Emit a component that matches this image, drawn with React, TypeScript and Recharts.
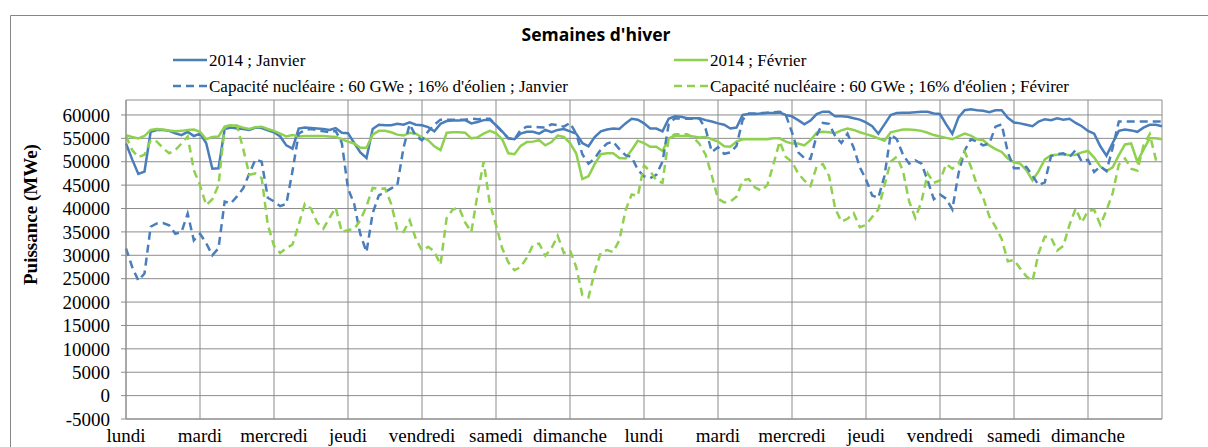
import React from "react";
import { LineChart, Line, XAxis, YAxis, CartesianGrid } from "recharts";

// 2-hour steps, 12 points per day, 14 days (+ closing point)
const dayLabels = [
  "lundi", "mardi", "mercredi", "jeudi", "vendredi", "samedi", "dimanche",
  "lundi", "mardi", "mercredi", "jeudi", "vendredi", "samedi", "dimanche",
];
const stepsPerDay = 12;

const yTicks = [-5000, 0, 5000, 10000, 15000, 20000, 25000, 30000, 35000, 40000, 45000, 50000, 55000, 60000];

const janvier2014 = [
  53900, 50500, 47400, 47900, 56400, 56800, 56800, 56600, 56100, 55700, 56400, 55500,
  56000, 54000, 48500, 48600, 57000, 57300, 57100, 57000, 56800, 57300, 57200, 56700,
  56300, 55400, 53500, 52800, 57100, 57300, 57200, 57100, 57000, 56800, 57200, 56200,
  56100, 54000, 52000, 50800, 57000, 57900, 57800, 57800, 58100, 57900, 58400, 57900,
  57800, 57400, 56500, 58100, 58700, 58800, 58800, 58900, 58200, 58500, 58900, 59000,
  57800, 56500, 55000, 54800, 56000, 56400, 56400, 56000, 56800, 56300, 56800, 57000,
  56500, 56000, 54000, 53300, 55300, 56500, 56900, 57100, 57000, 58200, 59200, 59000,
  58200, 57100, 57100, 56500, 59200, 59700, 59600, 59300, 59300, 59300, 58900, 58600,
  58200, 57900, 57100, 57300, 60000, 60200, 60200, 60300, 60400, 60400, 60500, 60000,
  59700, 58900, 58000, 58800, 60200, 60700, 60700, 59700, 59700, 59600, 59300, 59000,
  58400, 57600, 56000, 58000, 60000, 60400, 60500, 60500, 60600, 60700, 60700, 60300,
  60200, 58000, 56000, 59500, 61000, 61200, 61000, 60900, 60600, 61000, 61000, 59400,
  58400, 58200, 57900, 57600, 58600, 59100, 58900, 59300, 59000, 59200, 58300, 57600,
  56600, 56000, 53300, 51300, 54000, 56600, 56900, 56700, 56400, 57300, 57900, 57900, 57600,
];

const fevrier2014 = [
  55700, 55300, 55000, 55500, 56800, 57000, 56900, 56700, 56500, 56600, 56800, 56900,
  56400, 54800, 55300, 55400, 57500, 57800, 57700, 57300, 57000, 57400, 57500, 57000,
  56600, 56000, 55400, 55700, 55400, 55500, 55500, 55500, 55500, 55400, 55300, 54800,
  54300, 53900, 53000, 53000, 55800, 56600, 56600, 56300, 55800, 55600, 56200, 56000,
  55200, 54600, 53300, 52500, 56200, 56300, 56300, 56200, 55000, 55200, 56000, 56600,
  56100, 54800, 51800, 51600, 53400, 54200, 54300, 54600, 53500, 54200, 55600, 55300,
  54000, 51800, 46300, 46900, 49500, 51600, 51800, 51800, 50800, 50700, 52500, 54500,
  54000, 53200, 53200, 52300, 55000, 55500, 55500, 55500, 55400, 55200, 55300, 54800,
  54300, 53300, 53200, 54300, 54800, 54800, 54800, 54800, 54800, 55000, 55000, 54300,
  53900, 53900, 53500, 54600, 56200, 56400, 56300, 56100, 56700, 57100, 56800, 56300,
  55900, 55500, 55000, 54500, 56300, 56600, 56900, 56900, 56800, 56600, 56200, 55700,
  55400, 55100, 54800, 55400, 56000, 55600, 54800, 54600, 53500, 52700, 52100, 50700,
  49900, 49600, 48200, 46000, 48000, 50500, 51400, 51500, 51600, 51400, 51500, 52000,
  52300, 50900, 49000, 48000, 48800, 51400, 53700, 53900, 50000, 52600, 55000, 55000, 54800,
];

const capaciteJanvier = [
  31500, 27500, 24600, 26100, 36100, 36800, 36900, 36400, 34600, 35000, 38900, 33200,
  34600, 32600, 30000, 31500, 41500, 41100, 42600, 44300, 47500, 50500, 50000, 42300,
  41500, 40500, 41000, 48000, 56000, 56800, 57000, 56800, 56500, 56300, 56600, 54000,
  44300, 41000, 34500, 30700, 39000, 42800, 43500, 44300, 45000, 53000, 58000, 55500,
  54600, 56500, 57900, 59000, 59000, 59000, 59000, 59000, 59200, 59100, 59200, 59200,
  57800, 56400, 55000, 54800, 56800, 57500, 57500, 57400, 57300, 58000, 57800, 57500,
  58300, 56000, 51600, 49600, 50700, 52600, 53900, 54300, 52700, 51400, 51000, 48300,
  46900, 46500, 47200, 50000, 58000, 59300, 59200, 59200, 59200, 59200, 57000, 52100,
  53100, 51700, 52000, 53400, 59000, 60300, 60300, 60400, 60500, 60600, 60700, 60000,
  56300, 52000, 50800, 50600, 55600, 58300, 58100, 55500, 54000, 56000, 53000, 48800,
  46200, 42800, 42300, 47000, 55800, 54800, 51500, 49600, 50300, 49600, 46000, 42000,
  43000, 42100, 39800, 47500, 52400, 54800, 54300, 53500, 53900, 57500, 58000, 52000,
  48600, 48600, 48900, 47000, 45000, 45600, 51200, 51600, 51800, 51000, 52500, 50000,
  50400, 47800, 49000, 48000, 53000, 58600, 58600, 58600, 58600, 58600, 58600, 58600, 58600,
];

const capaciteFevrier = [
  55500, 52500, 51000, 51500, 54600, 54300, 52900, 51800, 52500, 53900, 55400, 48200,
  45000, 40700, 42000, 45000, 57400, 57900, 57700, 52800, 47200, 47500, 46500, 36500,
  32000, 30500, 31500, 32300, 36500, 41000, 40000, 37000, 35700, 38000, 40200, 35000,
  35400, 35600, 37500, 40500, 44400, 44200, 44300, 41000, 35500, 35000, 37500, 33500,
  31000, 31800, 30800, 28000, 38000, 39800, 40200, 37000, 35000, 43000, 50000, 41000,
  36500, 31500, 28500, 26800, 27500, 29500, 32200, 32500, 29900, 31500, 34200, 30500,
  31100, 27500, 21500, 21000, 26500, 30600, 31100, 30700, 33200, 39600, 43000, 42700,
  49200, 48000, 46000, 45500, 55000, 55900, 55900, 55900, 55200, 53800, 51500, 47000,
  42100, 41300, 41500, 42500, 46000, 46300, 44500, 43800, 45000, 49500, 54300, 51000,
  50000, 47500, 46000, 44800, 49000, 49500, 47000, 40000, 37200, 37800, 39000, 36000,
  36500, 38200, 39800, 45000, 50000, 51100, 48000, 41500, 38000, 41500, 47500, 45500,
  46000, 49500, 48500, 49600, 52200, 49000, 45000, 42300, 38300, 36100, 33500, 28700,
  29000, 27200, 25500, 24500, 30500, 34000, 33800, 31000, 32000, 36500, 40000, 37000,
  39500, 39700, 36500, 39600, 43300, 49400, 50700, 48500, 48100, 53500, 55900, 50500, 50600,
];

const BLUE = "#4a7ebb";
const GREEN = "#8fd14f";
const GRID = "#8c8c8c";
const SERIF = "'Liberation Serif', 'Times New Roman', serif";

const chartData = janvier2014.map((v, i) => ({
  t: i,
  janvier: v,
  fevrier: fevrier2014[i],
  capaJanvier: capaciteJanvier[i],
  capaFevrier: capaciteFevrier[i],
}));

const xTicks = [...dayLabels.map((_, i) => i * stepsPerDay), dayLabels.length * stepsPerDay];

const legendItems = [
  { label: "2014 ; Janvier", color: BLUE, dash: undefined, x: 173, y: 60 },
  { label: "2014 ; Février", color: GREEN, dash: undefined, x: 674, y: 60 },
  { label: "Capacité nucléaire : 60 GWe ; 16% d'éolien ; Janvier", color: BLUE, dash: "8 5", x: 173, y: 86 },
  { label: "Capacité nucléaire : 60 GWe ; 16% d'éolien ; Févirer", color: GREEN, dash: "8 5", x: 674, y: 86 },
];

export default function App() {
  return (
    <div style={{ position: "relative", width: 1208, height: 447, background: "#fff", overflow: "hidden" }}>
      <style>{`body{margin:0}`}</style>
      <LineChart
        width={1208}
        height={447}
        data={chartData}
        margin={{ top: 100, right: 46, bottom: 0, left: 0 }}
      >
        <CartesianGrid stroke={GRID} strokeWidth={1} />
        <XAxis
          type="number"
          dataKey="t"
          domain={[0, dayLabels.length * stepsPerDay]}
          ticks={xTicks}
          interval={0}
          tickFormatter={(v: number) => dayLabels[v / stepsPerDay] ?? ""}
          height={28}
          tickLine={false}
          tickSize={0}
          tickMargin={10}
          axisLine={{ stroke: GRID }}
          tick={{ fill: "#000", fontSize: 19, fontFamily: SERIF }}
        />
        <YAxis
          type="number"
          domain={[-5000, 63200]}
          ticks={yTicks}
          interval={0}
          allowDataOverflow
          width={126}
          tickSize={5}
          tickMargin={11}
          tickLine={{ stroke: GRID }}
          axisLine={{ stroke: GRID }}
          tick={{ fill: "#000", fontSize: 19, fontFamily: SERIF }}
        />
        <Line type="linear" dataKey="janvier" stroke={BLUE} strokeWidth={2.5} dot={false} isAnimationActive={false} />
        <Line type="linear" dataKey="fevrier" stroke={GREEN} strokeWidth={2.5} dot={false} isAnimationActive={false} />
        <Line type="linear" dataKey="capaJanvier" stroke={BLUE} strokeWidth={2.5} strokeDasharray="8 5" dot={false} isAnimationActive={false} />
        <Line type="linear" dataKey="capaFevrier" stroke={GREEN} strokeWidth={2.5} strokeDasharray="8 5" dot={false} isAnimationActive={false} />
      </LineChart>
      <svg
        width={1208}
        height={447}
        style={{ position: "absolute", left: 0, top: 0, pointerEvents: "none" }}
      >
        <path d="M10.5,447 V15.5 H1208" fill="none" stroke="#868686" strokeWidth={1} />
        <text
          x={596}
          y={41}
          textAnchor="middle"
          fontFamily="'Open Sans', sans-serif"
          fontWeight="bold"
          fontSize={17.5}
          fill="#000"
        >
          Semaines d'hiver
        </text>
        {legendItems.map((it) => (
          <g key={it.label}>
            <line x1={it.x} x2={it.x + 34} y1={it.y} y2={it.y} stroke={it.color} strokeWidth={2.5} strokeDasharray={it.dash} />
            <text x={it.x + 36} y={it.y + 5.5} fontFamily={SERIF} fontSize={17} fill="#000">
              {it.label}
            </text>
          </g>
        ))}
        <text
          transform="translate(36.5,285) rotate(-90)"
          textAnchor="start"
          fontFamily={SERIF}
          fontWeight="bold"
          fontSize={19}
          fill="#000"
        >
          Puissance (MWe)
        </text>
      </svg>
    </div>
  );
}
